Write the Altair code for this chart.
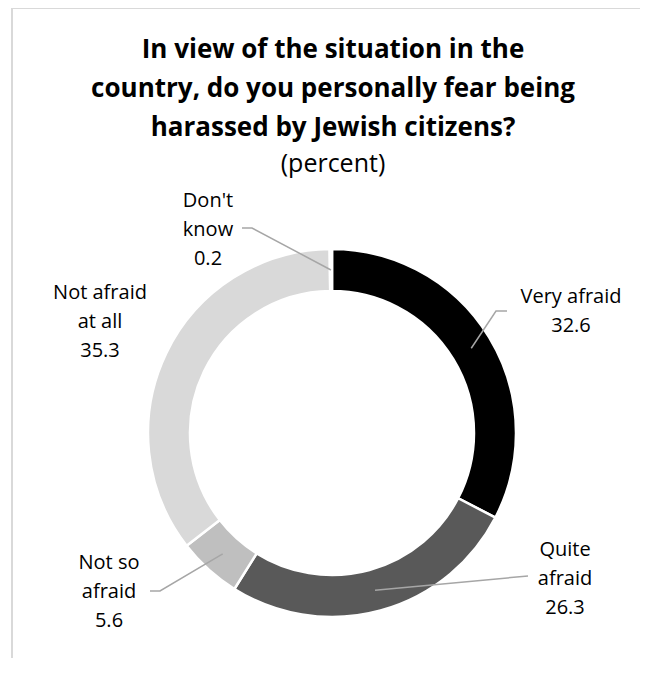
import math
import altair as alt
import pandas as pd

# ---- data ----
categories = ["Very afraid", "Quite afraid", "Not so afraid", "Not afraid at all", "Don't know"]
values = [32.6, 26.3, 5.6, 35.3, 0.2]
label_wrap = [["Very afraid"], ["Quite", "afraid"], ["Not so", "afraid"], ["Not afraid", "at all"], ["Don't", "know"]]
title_lines = ["In view of the situation in the", "country, do you personally fear being", "harassed by Jewish citizens?"]
subtitle = "(percent)"

# ---- style / layout (chart pixel coords; y = first text line) ----
colors = ["#000000", "#595959", "#bfbfbf", "#d9d9d9", "#8c8c8c"]
FONT = "Open Sans"
W, H = 632, 650
CX, CY = 324, 425
R_OUT, R_IN, R_LEAD = 184, 142, 163
label_pos = {
    "Very afraid": (563, 289),
    "Quite afraid": (557, 542),
    "Not so afraid": (101, 555),
    "Not afraid at all": (92, 285),
    "Don't know": (200, 193),
}
leader_elbows = {
    "Very afraid": [(499, 303), (488, 303)],
    "Quite afraid": [(520, 568)],
    "Not so afraid": [(142, 583), (152, 583)],
    "Don't know": [(234, 220), (244, 220)],
}

df = pd.DataFrame({"category": categories, "value": values, "order": list(range(len(categories)))})

arc = alt.Chart(df).mark_arc(
    innerRadius=R_IN, outerRadius=R_OUT, stroke="white", strokeWidth=2.5
).encode(
    theta=alt.Theta("value:Q", stack=True),
    color=alt.Color("category:N", scale=alt.Scale(domain=categories, range=colors), legend=None),
    order=alt.Order("order:Q"),
    x=alt.value(CX),
    y=alt.value(CY),
)

# leader lines: from label elbow to slice middle
total = sum(values)
rows = []
cum = 0.0
for cat, v in zip(categories, values):
    mid = cum + v / 2
    cum += v
    if cat not in leader_elbows:
        continue
    a = mid / total * 2 * math.pi
    ex = CX + R_LEAD * math.sin(a)
    ey = CY - R_LEAD * math.cos(a)
    pts = leader_elbows[cat] + [(ex, ey)]
    for i, (px, py) in enumerate(pts):
        rows.append({"cat": cat, "px": px, "py": py, "ord": i})
lead_df = pd.DataFrame(rows)

leaders = alt.Chart(lead_df).mark_line(color="#a6a6a6", strokeWidth=1.5).encode(
    x=alt.X("px:Q", scale=None),
    y=alt.Y("py:Q", scale=None),
    detail="cat:N",
    order="ord:Q",
)

lab_df = pd.DataFrame({
    "cat": categories,
    "txt": ["\n".join(w + [f"{v}"]) for w, v in zip(label_wrap, values)],
    "lx": [label_pos[c][0] for c in categories],
    "ly": [label_pos[c][1] for c in categories],
})
labels = alt.Chart(lab_df).mark_text(
    font=FONT, fontSize=20, lineHeight=29, align="center", baseline="middle",
    color="#000000", lineBreak="\n"
).encode(
    x=alt.X("lx:Q", scale=None),
    y=alt.Y("ly:Q", scale=None),
    text="txt:N",
)

title_df = pd.DataFrame({"t": ["\n".join(title_lines)]})
title = alt.Chart(title_df).mark_text(
    font=FONT, fontSize=26, fontWeight="bold", lineHeight=39, align="center",
    baseline="middle", color="#000000", lineBreak="\n"
).encode(x=alt.value(325), y=alt.value(42), text="t:N")

sub_df = pd.DataFrame({"t": [subtitle]})
sub = alt.Chart(sub_df).mark_text(
    font=FONT, fontSize=25, align="center", baseline="middle", color="#000000"
).encode(x=alt.value(325), y=alt.value(156), text="t:N")

frame_df = pd.DataFrame({"a": [0]})
top_rule = alt.Chart(frame_df).mark_rule(color="#d9d9d9", strokeWidth=2).encode(
    x=alt.value(3), x2=alt.value(W + 10), y=alt.value(0)
)
left_rule = alt.Chart(frame_df).mark_rule(color="#d9d9d9", strokeWidth=2).encode(
    x=alt.value(4), y=alt.value(0), y2=alt.value(H + 10)
)

chart = alt.layer(top_rule, left_rule, arc, leaders, labels, title, sub).properties(
    width=W, height=H, autosize="none", padding=0
).configure_view(stroke=None, fill="white")

chart.save("out.html", embed_options={"renderer": "svg", "actions": False})
